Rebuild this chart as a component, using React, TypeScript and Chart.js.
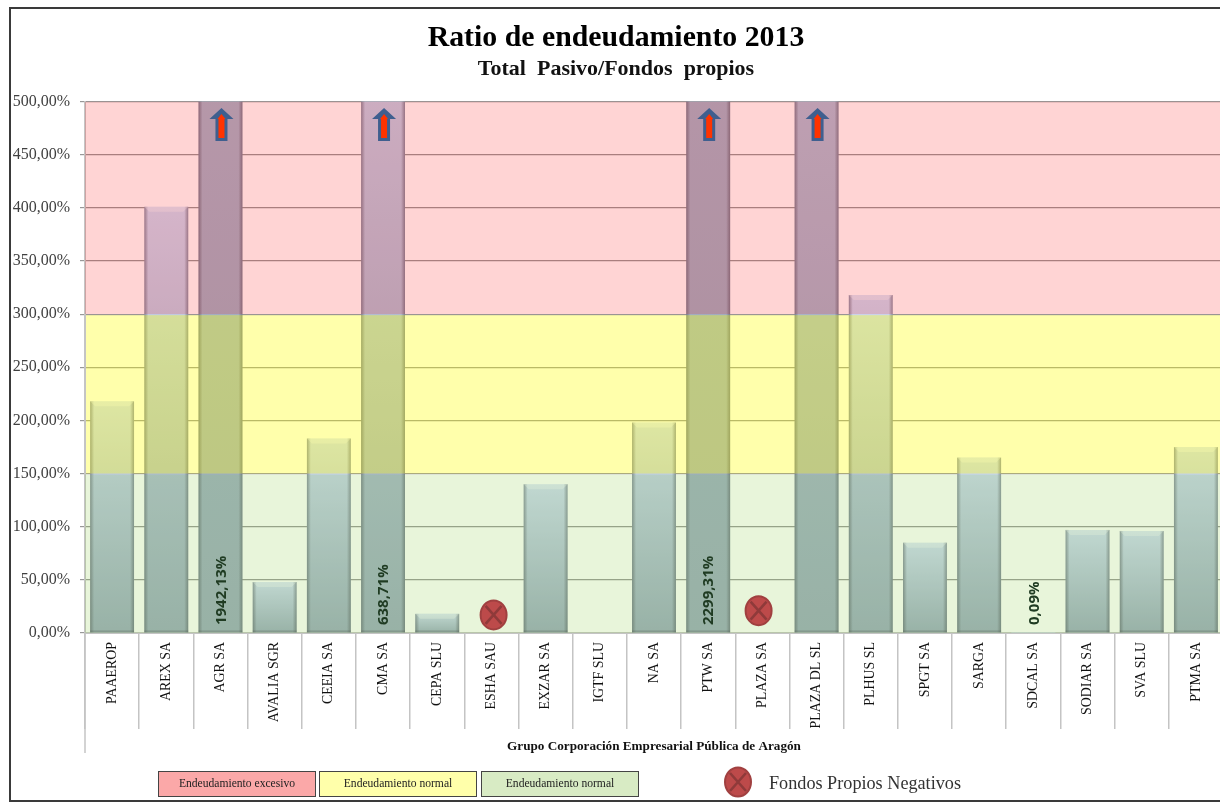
import React, { useEffect, useRef } from "react";
import { Chart, registerables } from "chart.js";

Chart.register(...registerables);

const categories = ["PAAEROP", "AREX SA", "AGR SA", "AVALIA SGR", "CEEIA SA", "CMA SA", "CEPA SLU", "ESHA SAU", "EXZAR SA", "IGTF SLU", "NA SA", "PTW SA", "PLAZA SA", "PLAZA DL SL", "PLHUS SL", "SPGT SA", "SARGA", "SDCAL SA", "SODIAR SA", "SVA SLU", "PTMA SA"];
const ratios = [218, 401, 1942.13, 48, 183, 638.71, 18, null, 140, null, 198, 2299.31, null, 1100, 318, 85, 165, 0.09, 97, 96, 175];
const ratioLabels = [null, null, "1942,13%", null, null, "638,71%", null, null, null, null, null, "2299,31%", null, null, null, null, null, "0,09%", null, null, null];
const negativeMarkerX = [7.04, 11.93];
const negativeMarkerY = [17, 21];
const arrowTipValue = 494;
const labelStartValue = 7.5;
const bandEdges = [500, 300, 150, 0];
const bandFills = ["rgba(255,0,0,0.17)", "rgba(255,255,0,0.33)", "rgba(146,208,80,0.21)"];
const bandInsets = [0, 2, 1];
const legendItems = [
  ["Endeudamiento excesivo", "#fba8a8", 158],
  ["Endeudamiento normal", "#ffffaa", 319],
  ["Endeudamiento normal", "#d8ebc4", 481],
];

const SERIF = '"Liberation Serif", serif';

function barGradient(c: any) {
  const chart = c.chart;
  const { chartArea, scales } = chart;
  if (!chartArea) return "#c8d6f0";
  const v = ratios[c.dataIndex] ?? 0;
  const g = chart.ctx.createLinearGradient(0, scales.y.getPixelForValue(v), 0, scales.y.getPixelForValue(0));
  g.addColorStop(0, "rgb(205,218,243)");
  g.addColorStop(1, "rgb(154,170,190)");
  return g;
}

function drawMarker(ctx: CanvasRenderingContext2D, x: number, y: number) {
  ctx.save();
  ctx.beginPath();
  ctx.ellipse(x, y, 13, 14.5, 0, 0, Math.PI * 2);
  ctx.fillStyle = "#bd4a4a";
  ctx.fill();
  ctx.lineWidth = 2;
  ctx.strokeStyle = "#a04040";
  ctx.stroke();
  ctx.beginPath();
  const d = 8;
  ctx.moveTo(x - d, y - d - 1);
  ctx.lineTo(x + d, y + d + 1);
  ctx.moveTo(x + d, y - d - 1);
  ctx.lineTo(x - d, y + d + 1);
  ctx.lineWidth = 2.6;
  ctx.strokeStyle = "#8f3a3a";
  ctx.stroke();
  ctx.restore();
}

function drawArrow(ctx: CanvasRenderingContext2D, x: number, tip: number) {
  ctx.save();
  ctx.beginPath();
  ctx.moveTo(x, tip);
  ctx.lineTo(x + 12, tip + 11);
  ctx.lineTo(x + 6, tip + 11);
  ctx.lineTo(x + 6, tip + 33);
  ctx.lineTo(x - 6, tip + 33);
  ctx.lineTo(x - 6, tip + 11);
  ctx.lineTo(x - 12, tip + 11);
  ctx.closePath();
  ctx.fillStyle = "#3f5f8f";
  ctx.fill();
  ctx.beginPath();
  ctx.moveTo(x, tip + 6);
  ctx.lineTo(x + 4, tip + 11);
  ctx.lineTo(x + 3, tip + 11);
  ctx.lineTo(x + 3, tip + 30);
  ctx.lineTo(x - 3, tip + 30);
  ctx.lineTo(x - 3, tip + 11);
  ctx.lineTo(x - 4, tip + 11);
  ctx.closePath();
  ctx.fillStyle = "#ff3300";
  ctx.fill();
  ctx.restore();
}

const decorations = {
  id: "decorations",
  afterDatasetsDraw(chart: any) {
    const { ctx, chartArea: a, scales } = chart;
    const { x: xs, y: ys } = scales;
    ctx.save();
    ctx.beginPath();
    ctx.rect(a.left, a.top, a.right - a.left, a.bottom - a.top);
    ctx.clip();
    // bevel of every bar
    chart.getDatasetMeta(0).data.forEach((el: any, i: number) => {
      if (ratios[i] == null || ratios[i]! < 1) return;
      const l = el.x - el.width / 2;
      const r = el.x + el.width / 2;
      const edge = 4;
      let g = ctx.createLinearGradient(l, 0, l + edge, 0);
      g.addColorStop(0, "rgba(70,70,85,0.5)");
      g.addColorStop(1, "rgba(70,70,85,0)");
      ctx.fillStyle = g;
      ctx.fillRect(l, el.y, edge, el.base - el.y);
      g = ctx.createLinearGradient(r - edge, 0, r, 0);
      g.addColorStop(0, "rgba(70,70,85,0)");
      g.addColorStop(1, "rgba(70,70,85,0.5)");
      ctx.fillStyle = g;
      ctx.fillRect(r - edge, el.y, edge, el.base - el.y);
      ctx.fillStyle = "rgba(70,70,85,0.3)";
      ctx.fillRect(l, el.base - 2, r - l, 2);
      if (el.y > a.top) {
        ctx.beginPath();
        ctx.moveTo(l, el.y);
        ctx.lineTo(r, el.y);
        ctx.lineTo(r - 5, el.y + 5);
        ctx.lineTo(l + 5, el.y + 5);
        ctx.closePath();
        ctx.fillStyle = "rgba(255,255,255,0.32)";
        ctx.fill();
      }
    });
    // translucent bands over bars and grid
    bandFills.forEach((fill, i) => {
      const top = ys.getPixelForValue(bandEdges[i]) + (i === 0 ? 0 : 1);
      const bottom = ys.getPixelForValue(bandEdges[i + 1]);
      ctx.fillStyle = fill;
      ctx.fillRect(a.left - 1 + bandInsets[i], top, a.right - a.left + 1, bottom - top);
    });
    ctx.restore();

    // arrows for values above the axis
    ratios.forEach((v, i) => {
      if (v != null && v > ys.max) drawArrow(ctx, xs.getPixelForValue(i) + 1, ys.getPixelForValue(arrowTipValue));
    });
    // negative equity markers
    negativeMarkerX.forEach((mx, i) => drawMarker(ctx, xs.getPixelForValue(mx), ys.getPixelForValue(negativeMarkerY[i])));
    // rotated value labels
    ratioLabels.forEach((t, i) => {
      if (!t) return;
      ctx.save();
      ctx.translate(xs.getPixelForValue(i) + 1, ys.getPixelForValue(labelStartValue));
      ctx.rotate(-Math.PI / 2);
      ctx.font = 'bold 15px "Open Sans", sans-serif';
      ctx.fillStyle = "#1f3b22";
      ctx.textAlign = "left";
      ctx.textBaseline = "middle";
      ctx.fillText(t, 0, 0);
      ctx.restore();
    });
  },
  afterDraw(chart: any) {
    const { ctx, chartArea: a, scales } = chart;
    ctx.save();
    ctx.strokeStyle = "#c4c4c4";
    ctx.lineWidth = 1.5;
    ctx.beginPath();
    ctx.moveTo(a.left, a.bottom);
    ctx.lineTo(a.left, scales.x.bottom);
    ctx.stroke();
    ctx.restore();
  },
};

export default function App() {
  const ref = useRef<HTMLCanvasElement>(null);
  const iconRef = useRef<HTMLCanvasElement>(null);
  useEffect(() => {
    const chart = new Chart(ref.current!, {
      type: "bar",
      data: {
        labels: categories,
        datasets: [{ data: ratios as any, backgroundColor: barGradient as any, barPercentage: 0.81, categoryPercentage: 1, borderWidth: 0 }],
      },
      plugins: [decorations],
      options: {
        animation: false,
        responsive: false,
        layout: { autoPadding: false, padding: { left: 9, right: 7, top: 0, bottom: 50 } },
        plugins: {
          legend: { display: false },
          tooltip: { enabled: false },
          title: {
            display: true,
            text: "Ratio de endeudamiento 2013",
            color: "#000",
            font: { family: SERIF, size: 29.8, weight: "bold", lineHeight: 1.2 },
            padding: { top: 20, bottom: 0 },
          },
          subtitle: {
            display: true,
            text: "Total  Pasivo/Fondos  propios",
            color: "#111",
            font: { family: SERIF, size: 22, weight: "bold", lineHeight: 1.2 },
            padding: { top: 0, bottom: 19.4 },
          },
        },
        scales: {
          x: {
            offset: true,
            grid: { offset: true, drawOnChartArea: false, tickLength: 96, color: "#c4c4c4", lineWidth: 1.5 },
            border: { color: "#c4c4c4", width: 2 },
            ticks: {
              autoSkip: false, minRotation: 90, maxRotation: 90, padding: -87,
              color: "#111", font: { family: SERIF, size: 13.9 },
            },
            title: {
              display: true,
              text: "Grupo Corporación Empresarial Pública de Aragón",
              color: "#111",
              font: { family: SERIF, size: 13.2, weight: "bold", lineHeight: 1 },
              padding: { top: 1, bottom: 0 },
            },
            afterFit: (s: any) => { s.height = 120; },
          },
          y: {
            min: 0,
            max: 500,
            ticks: {
              stepSize: 50, padding: 10, color: "#404040",
              font: { family: SERIF, size: 16 },
              callback: (v: any) => Number(v).toFixed(2).replace(".", ",") + "%",
            },
            grid: { color: "#989898", tickLength: 5, lineWidth: 1.2 },
            border: { color: "#c4c4c4", width: 2 },
            afterFit: (s: any) => { s.width = 76; },
          },
        },
      },
    } as any);
    const ic = iconRef.current!.getContext("2d")!;
    drawMarker(ic, 18, 18);
    return () => chart.destroy();
  }, []);

  return (
    <div style={{ position: "fixed", left: 0, top: 0, width: 1220, height: 803, overflow: "hidden", background: "#fff" }}>
      <canvas ref={ref} width={1230} height={803} style={{ position: "absolute", left: 0, top: 0, width: 1230, height: 803 }} />
      <div style={{ position: "absolute", left: 9, top: 7, width: 1300, height: 795, border: "2px solid #3a3a3a", boxSizing: "border-box", pointerEvents: "none" }} />
      {legendItems.map(([text, color, left]) => (
        <div key={String(left)} style={{
          position: "absolute", left: left as number, top: 771, width: 158, height: 26, boxSizing: "border-box",
          background: color as string, border: "1px solid #444",
          fontFamily: SERIF, fontSize: 11.6, color: "#222", textAlign: "center", lineHeight: "24px",
        }}>{text}</div>
      ))}
      <canvas ref={iconRef} width={36} height={36} style={{ position: "absolute", left: 720, top: 764, width: 36, height: 36 }} />
      <div style={{ position: "absolute", left: 769, top: 772, fontFamily: SERIF, fontSize: 18.2, color: "#333", lineHeight: "22px", whiteSpace: "nowrap" }}>Fondos Propios Negativos</div>
    </div>
  );
}
